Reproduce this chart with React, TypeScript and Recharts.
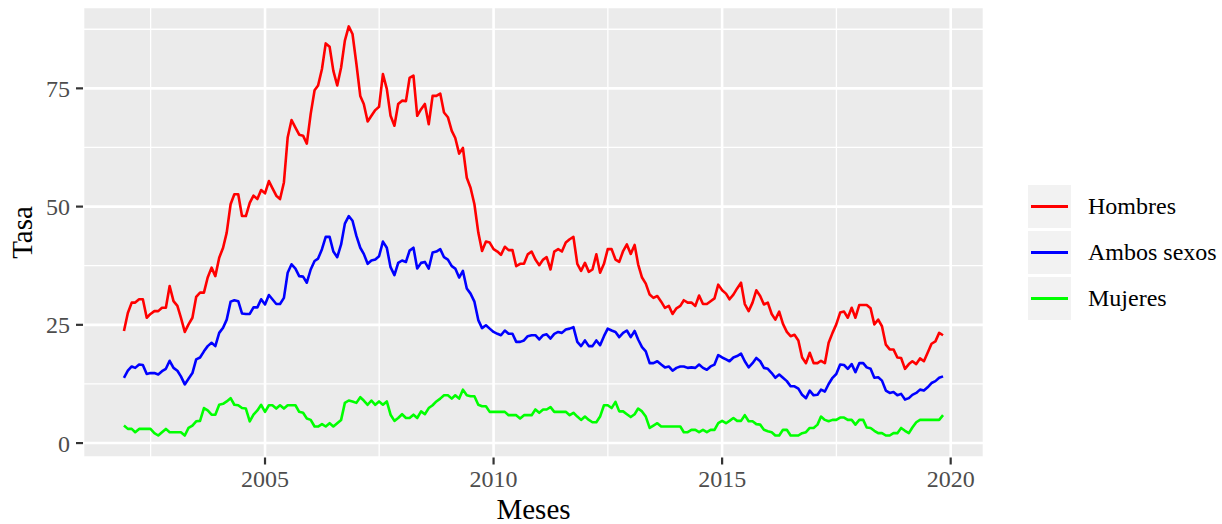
import React from 'react';
import { LineChart, Line, XAxis, YAxis, CartesianGrid } from 'recharts';

// Monthly series, first month = December 2001
const startYear = 2001;
const startMonth = 11; // 0-based (December)

const hombres = [
  23.7, 27.5, 29.7, 29.7, 30.4, 30.4, 26.5, 27.3, 27.9, 27.9, 28.6, 28.6,
  33.2, 30.0, 29.0, 26.5, 23.5, 25.1, 26.5, 30.9, 31.8, 31.8, 35.0, 37.1,
  35.3, 39.2, 41.3, 44.5, 50.5, 52.6, 52.6, 48.0, 48.0, 50.8, 52.3, 51.6,
  53.5, 52.8, 55.4, 53.9, 52.3, 51.6, 55.1, 64.6, 68.3, 66.7, 65.2, 65.0,
  63.3, 69.6, 74.6, 75.6, 79.1, 84.5, 83.8, 78.7, 75.6, 79.4, 85.1, 88.1,
  86.5, 80.2, 73.4, 71.7, 68.0, 69.2, 70.4, 71.1, 78.0, 74.9, 69.2, 67.1,
  71.7, 72.4, 72.3, 77.2, 77.7, 69.2, 70.6, 71.7, 67.4, 73.4, 73.4, 73.9,
  69.9, 68.9, 66.0, 64.5, 61.2, 62.4, 56.1, 54.0, 50.5, 44.5, 40.6, 42.6,
  42.4, 41.0, 40.5, 39.8, 41.5, 40.8, 40.8, 37.4, 37.9, 37.9, 39.9, 40.5,
  38.8, 37.6, 38.8, 39.3, 36.7, 40.5, 41.0, 40.5, 42.4, 43.1, 43.6, 37.9,
  36.4, 38.1, 36.2, 36.7, 39.9, 36.0, 37.9, 41.0, 41.0, 38.8, 38.3, 40.6,
  42.0, 40.0, 41.9, 37.8, 35.0, 33.7, 31.4, 30.7, 31.1, 29.9, 28.6, 29.0,
  27.3, 28.5, 29.0, 30.2, 29.7, 29.7, 29.0, 31.2, 29.4, 29.4, 30.0, 30.6,
  33.5, 32.3, 31.6, 30.4, 31.4, 32.7, 33.9, 29.4, 27.9, 29.7, 32.3, 31.1,
  29.3, 29.7, 27.3, 26.1, 27.8, 25.2, 23.5, 22.6, 22.9, 21.7, 18.1, 16.9,
  19.1, 16.9, 16.9, 17.4, 16.9, 21.2, 23.3, 25.1, 27.6, 27.8, 26.5, 28.6,
  26.5, 29.2, 29.2, 29.2, 28.5, 25.1, 26.1, 24.7, 20.8, 19.8, 19.8, 18.1,
  18.0, 15.7, 16.7, 17.3, 16.7, 17.9, 17.3, 19.1, 21.0, 21.5, 23.3, 22.8,
];

const ambosSexos = [
  13.8, 15.3, 16.2, 15.9, 16.6, 16.5, 14.6, 14.8, 14.8, 14.5, 15.2, 15.7,
  17.4, 15.9, 15.3, 14.1, 12.4, 13.6, 14.8, 17.7, 18.1, 19.4, 20.5, 21.2,
  20.5, 23.3, 24.4, 26.1, 29.9, 30.2, 30.0, 27.4, 27.3, 27.3, 28.7, 28.7,
  30.4, 29.3, 31.3, 30.4, 29.4, 29.4, 30.7, 36.0, 37.8, 36.9, 35.3, 35.2,
  33.9, 36.7, 38.5, 39.0, 41.0, 43.6, 43.6, 40.5, 39.3, 42.0, 46.4, 48.0,
  47.0, 43.8, 41.3, 40.0, 37.9, 38.6, 38.8, 39.5, 42.6, 41.3, 37.2, 35.5,
  38.1, 38.6, 38.3, 40.7, 41.3, 36.9, 38.1, 38.3, 36.9, 40.3, 40.5, 41.0,
  39.3, 38.8, 37.4, 36.9, 35.0, 36.4, 32.7, 31.6, 29.9, 26.0, 24.3, 24.9,
  24.2, 23.5, 23.1, 22.8, 23.8, 23.1, 23.1, 21.4, 21.4, 21.7, 22.6, 22.8,
  22.8, 21.9, 22.8, 23.0, 22.1, 23.1, 23.5, 23.3, 24.0, 24.2, 24.5, 21.4,
  20.5, 21.7, 20.5, 20.5, 21.7, 20.7, 22.6, 24.2, 23.8, 23.5, 22.4, 23.3,
  23.8, 22.4, 23.7, 21.9, 20.3, 19.4, 16.9, 16.9, 17.3, 16.6, 16.0, 16.2,
  15.3, 15.9, 16.2, 16.2, 15.9, 16.0, 15.9, 16.6, 15.9, 15.5, 16.2, 16.6,
  18.6, 18.1, 17.7, 17.3, 18.1, 18.4, 18.9, 17.3, 16.0, 16.9, 18.0, 17.3,
  15.9, 15.7, 14.8, 13.8, 14.5, 13.8, 13.1, 12.0, 12.0, 11.5, 10.2, 9.5,
  11.1, 10.1, 10.2, 11.3, 10.9, 12.5, 13.8, 14.6, 16.6, 16.5, 15.7, 16.7,
  15.0, 16.9, 16.9, 16.0, 15.7, 13.8, 13.9, 13.2, 11.1, 10.6, 10.8, 10.1,
  10.4, 9.2, 9.5, 10.2, 10.6, 11.3, 11.1, 11.8, 12.7, 13.1, 13.8, 14.1,
];

const mujeres = [
  3.7, 3.0, 3.0, 2.3, 3.0, 3.0, 3.0, 3.0, 2.1, 1.6, 2.3, 3.0,
  2.3, 2.3, 2.3, 2.3, 1.6, 3.2, 3.7, 4.6, 4.7, 7.4, 6.9, 6.0,
  6.0, 8.1, 8.3, 8.8, 9.5, 8.1, 8.0, 7.4, 7.3, 4.6, 6.0, 6.9,
  8.1, 6.6, 8.0, 8.0, 7.3, 8.0, 7.3, 8.0, 8.0, 8.0, 6.6, 6.4,
  5.2, 4.9, 3.5, 3.5, 4.0, 3.5, 4.2, 3.5, 4.2, 4.9, 8.5, 9.0,
  8.8, 8.5, 9.7, 9.0, 8.1, 9.0, 8.1, 8.8, 8.1, 8.8, 6.0, 4.7,
  5.3, 6.1, 5.3, 5.3, 6.0, 5.3, 6.7, 6.1, 7.4, 8.0, 8.8, 9.4,
  10.1, 10.1, 9.4, 10.1, 9.4, 11.3, 10.1, 9.9, 9.9, 8.1, 7.8, 7.8,
  6.6, 6.6, 6.6, 6.6, 6.6, 5.9, 5.9, 5.9, 5.2, 5.9, 5.9, 5.9,
  7.1, 6.4, 7.1, 7.1, 7.6, 6.6, 6.6, 6.6, 6.6, 5.9, 6.4, 5.6,
  4.9, 5.6, 4.9, 4.4, 4.4, 5.6, 8.0, 8.0, 7.4, 8.7, 6.7, 6.7,
  6.1, 5.5, 6.1, 7.3, 6.7, 5.6, 3.2, 3.7, 4.2, 3.5, 3.5, 3.5,
  3.5, 3.5, 3.5, 2.3, 2.3, 2.8, 2.8, 2.3, 2.8, 2.3, 2.8, 2.8,
  4.2, 4.7, 4.2, 4.7, 5.3, 4.7, 4.7, 5.9, 4.6, 4.6, 4.0, 3.9,
  2.8, 2.5, 2.3, 1.6, 1.6, 2.8, 2.8, 1.6, 1.6, 1.6, 2.1, 2.3,
  3.2, 3.2, 3.9, 5.6, 4.9, 4.6, 4.9, 4.9, 5.4, 5.4, 4.9, 4.9,
  3.9, 4.9, 4.9, 3.3, 3.2, 2.6, 2.1, 2.1, 1.6, 1.6, 2.1, 2.1,
  3.2, 2.6, 2.1, 3.3, 4.4, 4.9, 4.9, 4.9, 4.9, 4.9, 4.9, 5.9,
];

const xMajorYears = [2005, 2010, 2015, 2020];
const xMinorDates = ['2002-07-02', '2007-07-02', '2012-07-02', '2017-07-02'];
const yMajorTicks = [0, 25, 50, 75];
const yMinorTicks = [12.5, 37.5, 62.5, 87.5];
const yDomain = [-3.05, 92.2];

const seriesNames = ['Hombres', 'Ambos sexos', 'Mujeres'];
const seriesKeys = ['h', 'a', 'm'];
const seriesColors = ['#FF0000', '#0000FF', '#00FF00'];

const xTitle = 'Meses';
const yTitle = 'Tasa';

const data = hombres.map((v, i) => ({
  t: Date.UTC(startYear, startMonth + i, 1),
  h: v,
  a: ambosSexos[i],
  m: mujeres[i],
}));

const tFirst = data[0].t;
const tLast = data[data.length - 1].t;
const tPad = (tLast - tFirst) * 0.05;
const xDomain = [tFirst - tPad, tLast + tPad];
const xMajorTicks = xMajorYears.map((y) => Date.UTC(y, 0, 1));
const xMinorTicks = xMinorDates.map((d) => Date.parse(d));

const FONT = '"Liberation Serif", "Times New Roman", serif';
const W = 1222;
const H = 524;
const PLOT_TOP = 7;
const PLOT_LEFT = 83;
const PLOT_RIGHT = 984;
const PLOT_BOTTOM = 457.5;
const TICK_FS = 24;
const TITLE_FS = 29;

export default function App() {
  return (
    <div style={{ position: 'absolute', left: 0, top: 0, width: W, height: H, background: '#fff', fontFamily: FONT, overflow: 'hidden' }}>
      <LineChart
        width={W}
        height={H}
        data={data}
        margin={{ top: PLOT_TOP, right: W - PLOT_RIGHT, bottom: 0, left: 0 }}
      >
        <CartesianGrid
          fill="#EBEBEB"
          stroke="#FFFFFF"
          strokeWidth={1.3}
          horizontalValues={yMinorTicks}
          verticalValues={xMinorTicks}
        />
        <CartesianGrid stroke="#FFFFFF" strokeWidth={2.6} />
        <XAxis
          dataKey="t"
          type="number"
          domain={xDomain}
          ticks={xMajorTicks}
          allowDataOverflow
          interval={0}
          tickFormatter={(v) => String(new Date(v).getUTCFullYear())}
          axisLine={false}
          tickLine={{ stroke: '#333333', strokeWidth: 2.2 }}
          tickSize={7}
          tickMargin={5}
          tick={{ fill: '#4D4D4D', fontSize: TICK_FS, fontFamily: FONT }}
          height={H - PLOT_BOTTOM}
        />
        <YAxis
          type="number"
          domain={yDomain}
          ticks={yMajorTicks}
          allowDataOverflow
          interval={0}
          axisLine={false}
          tickLine={{ stroke: '#333333', strokeWidth: 2.2 }}
          tickSize={7}
          tickMargin={6}
          tick={{ fill: '#4D4D4D', fontSize: TICK_FS, fontFamily: FONT }}
          width={PLOT_LEFT}
        />
        {seriesKeys.map((k, i) => (
          <Line
            key={k}
            type="linear"
            dataKey={k}
            name={seriesNames[i]}
            stroke={seriesColors[i]}
            strokeWidth={2.6}
            strokeLinejoin="round"
            dot={false}
            activeDot={false}
            isAnimationActive={false}
          />
        ))}
      </LineChart>

      {/* Axis titles */}
      <div
        style={{
          position: 'absolute',
          left: (PLOT_LEFT + PLOT_RIGHT) / 2 - 100,
          width: 200,
          top: 495,
          height: 28,
          textAlign: 'center',
          fontSize: TITLE_FS,
          lineHeight: '28px',
          color: '#000',
        }}
      >
        {xTitle}
      </div>
      <div
        style={{
          position: 'absolute',
          left: 22 - 100,
          top: (PLOT_TOP + PLOT_BOTTOM) / 2 - 14.5,
          width: 200,
          height: 29,
          textAlign: 'center',
          fontSize: TITLE_FS,
          lineHeight: '29px',
          color: '#000',
          transform: 'rotate(-90deg)',
        }}
      >
        {yTitle}
      </div>

      {/* Legend */}
      <div style={{ position: 'absolute', left: 1028, top: 185 }}>
        {seriesNames.map((name, i) => (
          <div key={name} style={{ display: 'flex', alignItems: 'center', height: 43, marginBottom: 3 }}>
            <div
              style={{
                width: 43,
                height: 43,
                background: '#F2F2F2',
                position: 'relative',
              }}
            >
              <div
                style={{
                  position: 'absolute',
                  left: 3,
                  right: 3,
                  top: 20,
                  height: 3,
                  background: seriesColors[i],
                }}
              />
            </div>
            <div style={{ marginLeft: 17, fontSize: TICK_FS, color: '#000', whiteSpace: 'nowrap' }}>{name}</div>
          </div>
        ))}
      </div>
    </div>
  );
}
